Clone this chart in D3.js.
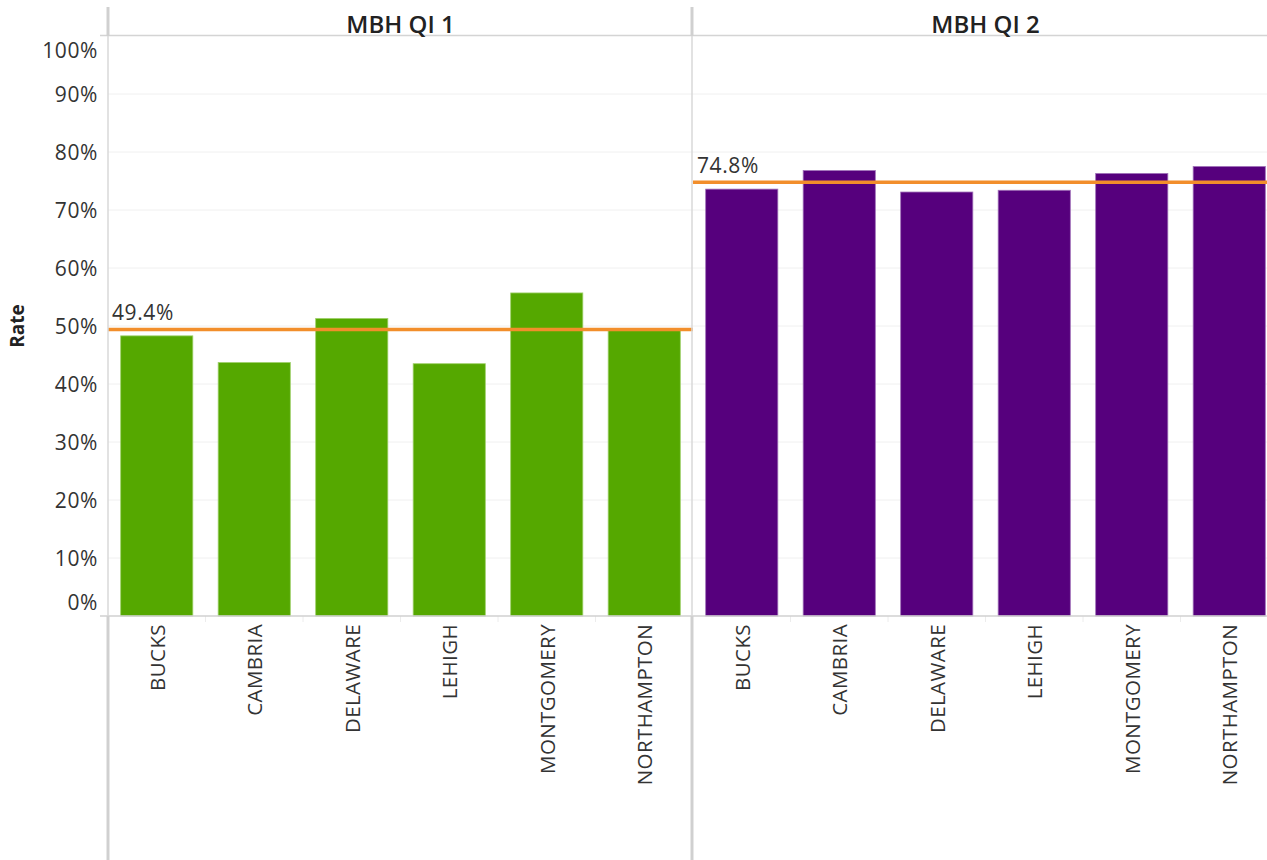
<!DOCTYPE html>
<html>
<head>
<meta charset="utf-8">
<script src="https://cdn.jsdelivr.net/npm/d3@7"></script>
<style>
  html, body { margin: 0; padding: 0; background: #fff; }
  svg { display: block; font-family: "Open Sans", "DejaVu Sans", sans-serif; }
</style>
</head>
<body>
<svg id="chart" width="1267" height="860"></svg>
<script>
// ---- data ----
const panels = ["MBH QI 1", "MBH QI 2"];
const categories = ["BUCKS", "CAMBRIA", "DELAWARE", "LEHIGH", "MONTGOMERY", "NORTHAMPTON"];
const qi1Values = [48.3, 43.7, 51.3, 43.5, 55.7, 49.2];
const qi2Values = [73.6, 76.8, 73.1, 73.4, 76.3, 77.5];
const referenceValues = [49.4, 74.8];
const panelColors = ["#55a800", "#56007d"];
const yTicks = [0, 10, 20, 30, 40, 50, 60, 70, 80, 90, 100];
const seriesValues = [qi1Values, qi2Values];

// ---- layout ----
const svg = d3.select("#chart");
const plotTop = 36, plotBottom = 616;
const axisX = 108;
const panelWidth = 585;
const headerTop = 7;

const y = d3.scaleLinear().domain([0, 100]).range([plotBottom, plotTop]);
const panelScale = d3.scaleBand().domain(panels).range([axisX, axisX + panelWidth * 2]);
const x = d3.scaleBand().domain(categories).range([0, panelWidth]).paddingInner(0.26).paddingOuter(0.13);

// gridlines
svg.append("g").selectAll("line").data(yTicks.filter(d => d > 0 && d < 100)).join("line")
  .attr("x1", axisX).attr("x2", 1267)
  .attr("y1", d => y(d)).attr("y2", d => y(d))
  .attr("stroke", "#f0f0f0").attr("stroke-width", 1);

// header line
svg.append("line").attr("x1", 100).attr("x2", 1267).attr("y1", plotTop - 0.5).attr("y2", plotTop - 0.5)
  .attr("stroke", "#d4d4d4").attr("stroke-width", 1.5);

// y axis
const yAxis = d3.axisLeft(y).tickValues(yTicks).tickFormat(d => d + "%").tickSize(0).tickPadding(10);
const gy = svg.append("g").attr("transform", `translate(${axisX},0)`).call(yAxis);
gy.select(".domain").remove();
gy.selectAll("text")
  .attr("font-size", 21).attr("fill", "#333").attr("font-family", "Open Sans, sans-serif")
  .attr("letter-spacing", 0.6)
  .attr("dy", d => d === 100 ? "1.0em" : d === 0 ? "-0.33em" : "0.35em");

// y-axis title
svg.append("text").attr("transform", `translate(24,${(plotTop + plotBottom) / 2 + 0}) rotate(-90)`)
  .attr("text-anchor", "middle").attr("font-size", 19).attr("font-weight", "bold").attr("fill", "#222")
  .text("Rate");

// panels
panels.forEach((p, pi) => {
  const px = panelScale(p);
  const g = svg.append("g").attr("transform", `translate(${px},0)`);
  // header title
  svg.append("text").attr("x", px + panelWidth / 2).attr("y", 33)
    .attr("text-anchor", "middle").attr("font-size", 24).attr("font-weight", 600).attr("fill", "#222")
    .text(p);
  // bars
  g.selectAll("rect").data(categories.map((c, i) => ({c, v: seriesValues[pi][i]}))).join("rect")
    .attr("x", d => x(d.c)).attr("width", x.bandwidth())
    .attr("y", d => y(d.v)).attr("height", d => y(0) - y(d.v))
    .attr("fill", panelColors[pi])
    .attr("stroke", pi === 0 ? "#9fd06a" : "#a070b8").attr("stroke-width", 0.8);
  // reference line
  const rv = referenceValues[pi];
  g.append("line").attr("x1", 0).attr("x2", panelWidth).attr("y1", y(rv)).attr("y2", y(rv))
    .attr("stroke", "#f28e2b").attr("stroke-width", 3.5);
  g.append("text").attr("x", 4).attr("y", y(rv) - 9.5).attr("font-size", 21).attr("letter-spacing", 0.6)
    .attr("fill", "#333")
    .text(rv.toFixed(1) + "%");
  // category labels
  g.selectAll("text.cat").data(categories).join("text").attr("class", "cat")
    .attr("transform", d => `translate(${x(d) + x.bandwidth() / 2 + 1},${plotBottom + 8}) rotate(-90)`)
    .attr("text-anchor", "end").attr("dy", "0.35em").attr("font-size", 20.5).attr("letter-spacing", 0.4)
    .attr("fill", "#333")
    .text(d => d);
  // separators between categories below baseline
  g.selectAll("line.sep").data(categories.slice(1)).join("line").attr("class", "sep")
    .attr("x1", d => x(d) - x.step() * x.paddingInner() / 2).attr("x2", d => x(d) - x.step() * x.paddingInner() / 2)
    .attr("y1", plotBottom).attr("y2", plotBottom + 6)
    .attr("stroke", "#ececec").attr("stroke-width", 1);
});

// baseline
svg.append("line").attr("x1", 100).attr("x2", 1267).attr("y1", plotBottom).attr("y2", plotBottom)
  .attr("stroke", "#d0d0d0").attr("stroke-width", 1.5);

// vertical borders
const borders = [axisX, axisX + panelWidth - 1];
borders.forEach(bx => {
  svg.append("line").attr("x1", bx).attr("x2", bx).attr("y1", headerTop).attr("y2", plotTop)
    .attr("stroke", "#d0d0d0").attr("stroke-width", 3);
  svg.append("line").attr("x1", bx).attr("x2", bx).attr("y1", plotTop).attr("y2", plotBottom)
    .attr("stroke", "#d8d8d8").attr("stroke-width", 1.5);
  svg.append("line").attr("x1", bx).attr("x2", bx).attr("y1", plotBottom).attr("y2", 860)
    .attr("stroke", "#d0d0d0").attr("stroke-width", 3);
});
</script>
</body>
</html>
